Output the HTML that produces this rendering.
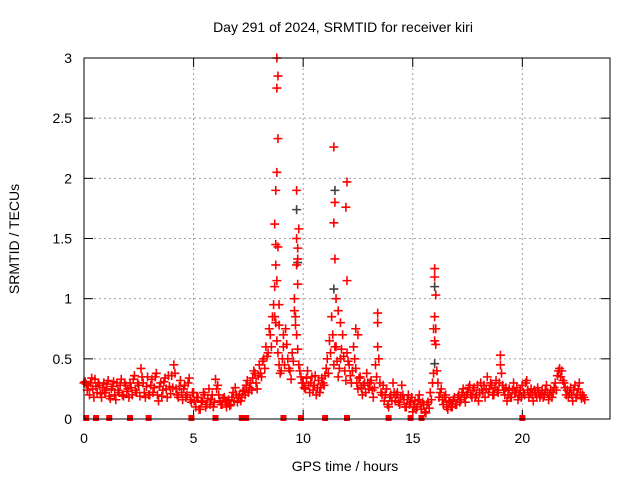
<!DOCTYPE html>
<html><head><meta charset="utf-8"><style>
body{margin:0;background:#fff;}
svg text{font-family:"Liberation Sans",sans-serif;font-size:14px;fill:#000;}
</style></head><body>
<svg id="chart" width="640" height="480">
<text x="343" y="32" text-anchor="middle">Day 291 of 2024, SRMTID for receiver kiri</text>
<text x="345" y="471" text-anchor="middle">GPS time / hours</text>
<text transform="translate(19,239) rotate(-90)" text-anchor="middle">SRMTID / TECUs</text>
<g id="grid"></g><g id="ticks"></g><g id="marks"></g>
<rect x="84" y="58" width="526" height="361" fill="none" stroke="#000" stroke-width="1"/>
</svg>
<script>
const xTicks=[0,5,10,15,20];
const yTicks=[0,0.5,1,1.5,2,2.5,3];
const yTickLabels=["0","0.5","1","1.5","2","2.5","3"];
const baseValues=[0.30,0.29,0.28,0.30,0.25,0.33,0.22,0.28,0.18,0.30,
0.24,0.32,0.17,0.27,0.20,0.30,0.22,0.33,0.19,0.28,
0.25,0.30,0.20,0.36,0.22,0.28,0.42,0.30,0.18,0.35,
0.20,0.33,0.26,0.38,0.15,0.30,0.24,0.34,0.18,0.27,
0.36,0.45,0.25,0.18,0.32,0.16,0.28,0.20,0.34,0.14,
0.22,0.10,0.18,0.08,0.15,0.20,0.12,0.25,0.16,0.10,
0.33,0.28,0.15,0.12,0.18,0.10,0.16,0.12,0.22,0.26,
0.14,0.20,0.18,0.24,0.28,0.22,0.30,0.34,0.38,0.25,
0.45,0.35,0.50,0.60,0.55,0.70,0.85,1.10,0.65,0.45,
0.40,0.60,0.75,0.50,0.40,0.55,0.90,0.70,0.45,0.35,
0.30,0.25,0.40,0.22,0.35,0.28,0.20,0.32,0.26,0.30,
0.36,0.50,0.65,0.85,0.45,0.60,0.35,0.50,0.70,0.40,
0.55,0.45,0.30,0.60,0.42,0.25,0.35,0.20,0.30,0.38,
0.25,0.32,0.18,0.45,0.60,0.30,0.20,0.15,0.25,0.10,
0.20,0.30,0.15,0.22,0.12,0.28,0.16,0.10,0.20,0.14,
0.06,0.15,0.10,0.20,0.08,0.12,0.05,0.14,0.22,0.30,
0.65,0.40,0.18,0.25,0.12,0.20,0.08,0.15,0.10,0.18,
0.12,0.20,0.16,0.25,0.14,0.22,0.28,0.18,0.26,0.20,
0.15,0.30,0.22,0.18,0.35,0.25,0.28,0.20,0.32,0.22,
0.45,0.28,0.20,0.15,0.25,0.18,0.30,0.22,0.16,0.24,
0.28,0.20,0.32,0.18,0.25,0.15,0.22,0.26,0.18,0.24,
0.20,0.28,0.16,0.24,0.22,0.30,0.36,0.42,0.40,0.30,
0.20,0.18,0.26,0.15,0.28,0.20,0.30,0.17,0.18];
const altValues=[0.31,0.24,0.20,0.34,0.18,0.27,0.30,0.21,0.26,0.22,
0.29,0.19,0.25,0.31,0.16,0.24,0.28,0.20,0.30,0.23,
0.18,0.26,0.33,0.24,0.30,0.19,0.35,0.22,0.27,0.20,
0.28,0.22,0.35,0.20,0.27,0.19,0.31,0.25,0.36,0.21,
0.26,0.38,0.20,0.27,0.22,0.25,0.18,0.30,0.16,0.22,
0.15,0.18,0.08,0.14,0.22,0.10,0.17,0.12,0.20,0.14,
0.25,0.20,0.12,0.17,0.14,0.15,0.11,0.18,0.15,0.20,
0.18,0.15,0.23,0.20,0.32,0.26,0.24,0.40,0.30,0.36,
0.38,0.48,0.42,0.52,0.75,0.60,0.95,0.80,0.55,0.38,
0.50,0.45,0.62,0.42,0.33,0.48,0.78,0.58,0.40,0.30,
0.26,0.34,0.28,0.30,0.24,0.36,0.26,0.22,0.34,0.28,
0.42,0.38,0.55,0.70,0.60,0.48,0.42,0.58,0.52,0.32,
0.48,0.36,0.40,0.50,0.30,0.34,0.26,0.28,0.22,0.30,
0.30,0.24,0.26,0.35,0.50,0.22,0.28,0.20,0.12,0.18,
0.15,0.22,0.20,0.14,0.18,0.20,0.10,0.16,0.12,0.18,
0.10,0.08,0.16,0.12,0.14,0.06,0.12,0.09,0.16,0.38,
0.75,0.30,0.22,0.16,0.18,0.10,0.14,0.10,0.16,0.12,
0.18,0.14,0.22,0.18,0.20,0.26,0.20,0.24,0.18,0.28,
0.22,0.24,0.28,0.25,0.22,0.30,0.20,0.26,0.24,0.30,
0.38,0.24,0.26,0.20,0.18,0.24,0.22,0.26,0.20,0.18,
0.22,0.30,0.24,0.22,0.20,0.24,0.18,0.22,0.20,0.18,
0.24,0.22,0.20,0.18,0.26,0.24,0.40,0.35,0.32,0.26,
0.24,0.22,0.20,0.24,0.18,0.25,0.22,0.20,0.16];
const spikeTimes=[8.8,8.85,8.8,8.85,8.8,8.75,8.7,8.75,8.85,8.75,8.8,9.7,9.7,9.75,9.75,9.7,9.8,9.75,11.4,11.45,11.4,11.45,12.0,11.95,12.0,16.0,16.0,16.05,16.0,15.95,9.6,9.65,8.9,8.7,11.5,11.6,13.4,13.4,12.4,19.0,8.9,9.1,11.7,12.5,16.05];
const spikeValues=[3.0,2.85,2.75,2.33,2.05,1.9,1.62,1.45,1.43,1.28,1.15,1.9,1.5,1.42,1.33,1.28,1.58,1.12,2.26,1.8,1.63,1.33,1.97,1.76,1.15,1.25,1.18,1.03,0.85,0.75,1.0,0.85,0.95,0.85,1.0,0.9,0.88,0.8,0.75,0.53,0.78,0.70,0.80,0.70,0.62];
const grayTimes=[9.7,11.45,11.4,16.0,16.0,9.75];
const grayValues=[1.74,1.9,1.08,0.46,1.1,1.3];
const zeroTimes=[0.1,0.55,1.15,2.1,2.95,4.9,6.0,7.2,7.4,9.1,9.9,11.0,12.0,13.9,14.9,15.4,20.0];
const NS="http://www.w3.org/2000/svg";
const X=t=>84+t*(526/24), Y=v=>419-v*(361/3);
const grid=document.getElementById('grid'),ticks=document.getElementById('ticks'),marks=document.getElementById('marks');
function mk(tag,attrs,parent){const e=document.createElementNS(NS,tag);for(const k in attrs)e.setAttribute(k,attrs[k]);parent.appendChild(e);return e;}
xTicks.forEach(t=>{const x=X(t);
 if(t>0){const g=mk('line',{x1:x,x2:x,y1:58,y2:419,stroke:'#a0a0a0','stroke-dasharray':'2,3'},grid);
 
 }
 mk('line',{x1:x,x2:x,y1:419,y2:410,stroke:'#000'},ticks);mk('line',{x1:x,x2:x,y1:58,y2:67,stroke:'#000'},ticks);
 const l=mk('text',{x:x,y:443,'text-anchor':'middle'},ticks);l.textContent=String(t);
 
 });
yTicks.forEach((v,i)=>{const y=Y(v);
 if(v>0&&v<3){const g=mk('line',{x1:84,x2:610,y1:y,y2:y,stroke:'#a0a0a0','stroke-dasharray':'2,3'},grid);
 
 }
 mk('line',{x1:84,x2:93,y1:y,y2:y,stroke:'#000'},ticks);mk('line',{x1:610,x2:601,y1:y,y2:y,stroke:'#000'},ticks);
 const l=mk('text',{x:72,y:y+5,'text-anchor':'end'},ticks);l.textContent=yTickLabels[i];
 
 });
function plus(t,v,color,name){const x=X(t),y=Y(v);
 const p=mk('path',{d:`M${x-4.5},${y}H${x+4.5}M${x},${y-4.5}V${y+4.5}`,stroke:color,'stroke-width':1.6,fill:'none'},marks);
 
 }
baseValues.forEach((v,i)=>{plus(i*0.1,v,'#ff0000','srmtid-point');});
altValues.forEach((v,i)=>{plus(i*0.1+0.05,v,'#ff0000','srmtid-point');});
grayTimes.forEach((t,i)=>{plus(t,grayValues[i],'#404040','srmtid-point-other');});
spikeTimes.forEach((t,i)=>{plus(t,spikeValues[i],'#ff0000','srmtid-spike-point');});
zeroTimes.forEach(t=>{const r=mk('rect',{x:X(t)-3,y:415,width:6,height:6,fill:'#ff0000'},marks);
 
 });
</script>
</body></html>
